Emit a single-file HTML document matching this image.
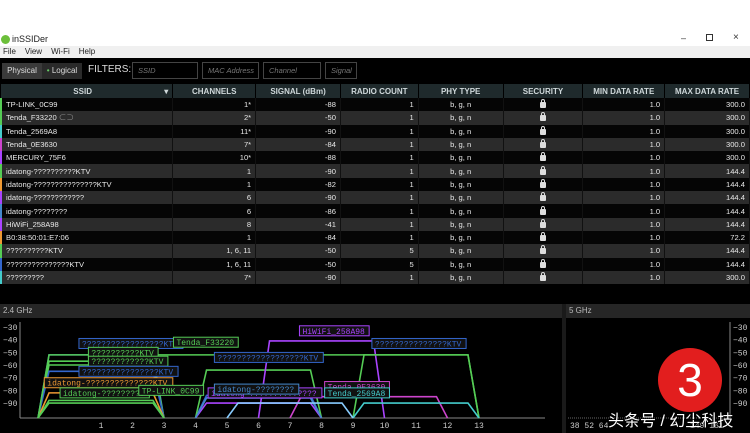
<!DOCTYPE html>
<html><head><meta charset="utf-8"><style>
*{margin:0;padding:0;box-sizing:border-box}
body{width:750px;height:433px;overflow:hidden;background:#000;font-family:"Liberation Sans","Noto Sans CJK SC",sans-serif;position:relative}
.abs{position:absolute}
#top{left:0;top:0;width:750px;height:46px;background:#fff}
#menu{left:0;top:46px;width:750px;height:12px;background:#f0f0f0;font-size:8px;color:#222}
#menu span{margin-left:3px;margin-right:6px;line-height:12px}
#toolbar{left:0;top:58px;width:750px;height:26px;background:#000}
.btn{top:5px;height:16px;font-size:8px;color:#ddd;line-height:16px;text-align:center}
.flt{top:4px;height:17px;border:1px solid #444;font-size:7.5px;color:#777;font-style:italic;line-height:15px;padding-left:5px}
table{position:absolute;left:0;top:84px;width:750px;border-collapse:collapse;font-size:7.6px;color:#e8e8e8}
th{height:14px;background:#1f2a2c;color:#cfd8da;font-weight:bold;font-size:8px;border-right:1px solid #000}
td{height:13.3px;padding:0 4px;white-space:nowrap;border-right:1px solid #111}
tr.o td{background:#2b2b2b}
tr.e td{background:#050505}
.r{text-align:right}.c{text-align:center}
.lock{display:inline-block;width:6px;height:6px;background:#ddd;border-radius:1px;position:relative;top:1px}
.lock:before{content:"";position:absolute;left:1px;top:-3px;width:2px;height:3px;border:1px solid #ddd;border-bottom:none;border-radius:2px 2px 0 0}
.ph{top:304px;height:14px;background:#262626;color:#bbb;font-size:8px;line-height:14px;padding-left:3px}
</style></head><body>
<div class="abs" id="top">
 <div class="abs" style="left:1px;top:35px;width:9px;height:9px;border-radius:50%;background:#6cbf3a"></div>
 <div class="abs" style="left:12px;top:34px;font-size:9px;color:#222">inSSIDer</div>
 <div class="abs" style="left:681px;top:33px;font-size:9px;color:#333">–</div>
 <div class="abs" style="left:706px;top:34px;width:7px;height:7px;border:1px solid #333"></div>
 <div class="abs" style="left:733px;top:32px;font-size:10px;color:#333">×</div>
</div>
<div class="abs" id="menu"><span>File</span><span>View</span><span>Wi-Fi</span><span>Help</span></div>
<div class="abs" id="toolbar">
 <div class="abs btn" style="left:2px;width:40px;background:#3a3a3a">Physical</div>
 <div class="abs btn" style="left:42px;width:40px;background:#2a2a2a"><span style="color:#6c6">•</span> Logical</div>
 <div class="abs" style="left:88px;top:6px;font-size:10px;color:#ddd;white-space:nowrap">FILTERS:</div>
 <div class="abs flt" style="left:132px;width:66px">SSID</div>
 <div class="abs flt" style="left:202px;width:57px">MAC Address</div>
 <div class="abs flt" style="left:263px;width:58px">Channel</div>
 <div class="abs flt" style="left:325px;width:32px">Signal</div>
</div>
<table>
<colgroup><col style="width:172px"><col style="width:83px"><col style="width:85px"><col style="width:78px"><col style="width:85px"><col style="width:80px"><col style="width:82px"><col style="width:85px"></colgroup>
<tr><th>SSID <span style="float:right;margin-right:4px">▾</span></th><th>CHANNELS</th><th>SIGNAL (dBm)</th><th>RADIO COUNT</th><th>PHY TYPE</th><th>SECURITY</th><th>MIN DATA RATE</th><th>MAX DATA RATE</th></tr>
<tbody id="tb"></tbody>
</table>
<div class="abs ph" style="left:0;width:562px">2.4 GHz</div>
<div class="abs ph" style="left:566px;width:184px">5 GHz</div>
<div class="abs" style="left:562px;top:304px;width:4px;height:129px;background:#1a1a1a"></div>
<svg class="abs" style="left:0;top:0" width="750" height="433" id="chart"></svg>
<div class="abs" style="left:658px;top:348px;width:64px;height:64px;border-radius:50%;background:#e21e1e;color:#fff;font-size:46px;line-height:64px;text-align:center">3</div>
<div class="abs" style="left:608px;top:407px;font-size:16px;color:#fff;white-space:nowrap;text-shadow:0 0 2px #000">头条号 / 幻尘科技</div>
<script>
const rowSsid=["TP-LINK_0C99","Tenda_F33220","Tenda_2569A8","Tenda_0E3630","MERCURY_75F6","idatong-??????????KTV","idatong-???????????????KTV","idatong-????????????","idatong-????????","HiWiFi_258A98","B0:38:50:01:E7:06","??????????KTV","???????????????KTV","?????????"];
const rowChannels=["1*","2*","11*","7*","10*","1","1","6","6","8","1","1, 6, 11","1, 6, 11","7*"];
const rowSignal=[-88,-50,-90,-84,-88,-90,-82,-90,-86,-41,-84,-50,-50,-90];
const rowRadio=[1,1,1,1,1,1,1,1,1,1,1,5,5,1];
const rowMax=["300.0","300.0","300.0","300.0","300.0","144.4","144.4","144.4","144.4","144.4","72.2","144.4","144.4","300.0"];
const rowColor=["#5c5","#5c5","#4cc","#c4c","#a4f","#5c5","#e93","#a4f","#48c","#a4f","#e93","#5c5","#36c","#4cc"];
const tb=document.getElementById('tb');
rowSsid.forEach((s,i)=>{
 const tr=document.createElement('tr');
 tr.className=i%2?'o':'e';
 
 
 tr.innerHTML=`<td style="border-left:2px solid ${rowColor[i]}">${s}${i==1?' <span style="color:#888">⊂⊃</span>':''}</td><td class="r">${rowChannels[i]}</td><td class="r">${rowSignal[i]}</td><td class="r">${rowRadio[i]}</td><td class="c">b, g, n</td><td class="c"><span class="lock"></span></td><td class="r">1.0</td><td class="r">${rowMax[i]}</td>`;
 tb.appendChild(tr);
});
// chart data
const netLabel=["?????????????????KTV","??????????KTV","????????????KTV","????????????????KTV","idatong-??????????????KTV","idatong-?????????","TP-LINK_0C99","Tenda_F33220","??????????????????KTV","","idatong-??????????????","idatong-????????","HiWiFi_258A98","???????????????KTV","Tenda_0E3630","Tenda_2569A8",""];
const netLo=[-1,-1,-1,-1,-1,-1,-1,-1,4,4,4,4,6,9,7,9,5];
const netHi=[3,3,3,3,3,3,3,13,8,8,8,8,10,13,12,13,9];
const netSignal=[-52,-57,-60,-65,-82,-90,-88,-52,-84,-64,-90,-86,-41,-52,-85,-90,-90];
const netLabelSig=[-43,-50,-57,-65,-74,-82,-80,-42,-54,0,-82,-79,-33,-43,-77,-82,0];
const netLabelCh=[0.3,0.6,0.6,0.3,-0.8,-0.3,2.2,3.3,4.6,0,4.4,4.6,7.3,9.6,8.1,8.1,0];
const netColor=["#36c","#5c5","#5c5","#36c","#e93","#5c5","#5c5","#5c5","#36c","#5c5","#a4f","#48c","#a4f","#5c5","#c4c","#4cc","#8cf"];
const netLabelColor=["#36c","#5c5","#5c5","#36c","#e93","#5c5","#5c5","#5c5","#36c","","#a4f","#48c","#a4f","#36c","#c4c","#4cc",""];
const yTicks=[-30,-40,-50,-60,-70,-80,-90];
const xTicks=[1,2,3,4,5,6,7,8,9,10,11,12,13];
const x5Labels=["38 52 64","149 161"];
const svg=document.getElementById('chart');
const NS='http://www.w3.org/2000/svg';
const xS=ch=>69.5+ch*31.5;
const yS=d=>327+(-30-d)*1.267;
const base=418;
function mk(tag,attrs,txt){const e=document.createElementNS(NS,tag);for(const k in attrs)e.setAttribute(k,attrs[k]);if(txt!==undefined)e.textContent=txt;svg.appendChild(e);return e;}
let ax=mk('line',{x1:20,y1:base,x2:545,y2:base,stroke:'#888','stroke-width':1});


let ay=mk('line',{x1:20,y1:322,x2:20,y2:base,stroke:'#888','stroke-width':1});


yTicks.forEach(t=>{
 const e=mk('text',{x:3,y:yS(t)+3,fill:'#ccc','font-size':8,'font-family':'Liberation Mono,monospace'},String(t).replace('-','−'));
 
 
 const e2=mk('text',{x:733,y:yS(t)+3,fill:'#ccc','font-size':8,'font-family':'Liberation Mono,monospace'},String(t).replace('-','−'));
 
 
});
let ay5=mk('line',{x1:730,y1:322,x2:730,y2:base,stroke:'#888','stroke-width':1});


let ax5=mk('line',{x1:568,y1:base,x2:730,y2:base,stroke:'#666','stroke-width':1,'stroke-dasharray':'1,1'});


xTicks.forEach(t=>{
 const e=mk('text',{x:xS(t),y:428,fill:'#ccc','font-size':8,'text-anchor':'middle','font-family':'Liberation Mono,monospace'},t);
 
 
});
x5Labels.forEach((t,i)=>{
 const e=mk('text',{x:i?690:570,y:428,fill:'#ccc','font-size':8,'font-family':'Liberation Mono,monospace'},t);
 
 
});
netSignal.forEach((s,i)=>{
 const lo=netLo[i],hi=netHi[i],y=yS(s);
 const p=mk('polyline',{points:`${xS(lo)},${base} ${xS(lo+0.35)},${y} ${xS(hi-0.35)},${y} ${xS(hi)},${base}`,fill:'none',stroke:netColor[i],'stroke-width':1.6});
 
 
});
netLabel.forEach((l,i)=>{
 if(!l)return;
 const x=xS(netLabelCh[i]),y=yS(netLabelSig[i]);
 const w=l.length*4.9+6;
 const r=mk('rect',{x:x,y:y-5,width:w,height:10,fill:'#111',stroke:netLabelColor[i],'stroke-width':1});
 
 
 const t=mk('text',{x:x+3,y:y+3,fill:netLabelColor[i],'font-size':8,'font-family':'Liberation Mono,monospace'},l);
 
 
});
</script>
</body></html>
